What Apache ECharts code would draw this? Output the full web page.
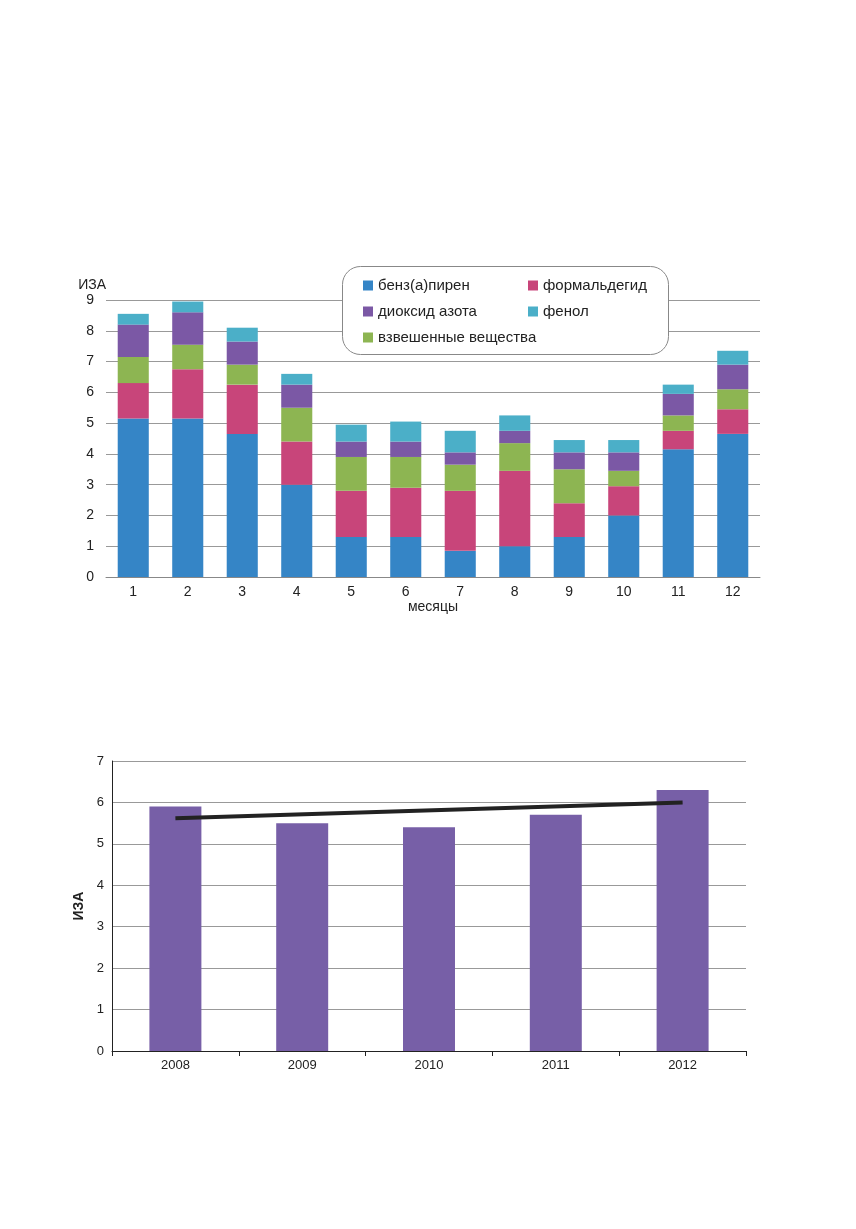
<!DOCTYPE html>
<html>
<head>
<meta charset="utf-8">
<script src="https://cdn.jsdelivr.net/npm/echarts@6/dist/echarts.min.js"></script>
<style>html,body{margin:0;padding:0;background:#fff}#main{width:856px;height:1229px}</style>
</head>
<body>
<div id="main"></div>
<script>
var months = ['1','2','3','4','5','6','7','8','9','10','11','12'];
var benz = [5.15, 5.15, 4.65, 3.0, 1.3, 1.3, 0.85, 1.0, 1.3, 2.0, 4.15, 4.65];
var formal = [1.15, 1.6, 1.6, 1.4, 1.5, 1.6, 1.95, 2.45, 1.1, 0.95, 0.6, 0.8];
var vzvesh = [0.85, 0.8, 0.65, 1.1, 1.1, 1.0, 0.85, 0.9, 1.1, 0.5, 0.5, 0.65];
var dioxid = [1.05, 1.05, 0.75, 0.75, 0.5, 0.5, 0.4, 0.4, 0.55, 0.6, 0.7, 0.8];
var fenol = [0.35, 0.35, 0.45, 0.35, 0.55, 0.65, 0.7, 0.5, 0.4, 0.4, 0.3, 0.45];

var years = ['2008','2009','2010','2011','2012'];
var iza = [5.9, 5.5, 5.4, 5.7, 6.3];
var trend = [5.62, null, null, null, 6.0];

var chart = echarts.init(document.getElementById('main'));
var font = 'Liberation Sans, Arial, sans-serif';
function stackSeries(name, data, color) {
  return { name: name, type: 'bar', stack: 'a', data: data, barWidth: '57%',
    itemStyle: { color: color }, xAxisIndex: 0, yAxisIndex: 0 };
}
chart.setOption({
  animation: false,
  textStyle: { fontFamily: font },
  graphic: [{
    type: 'rect', left: 342, top: 266,
    shape: { width: 326, height: 88, r: 18 },
    style: { fill: '#fff', stroke: '#888', lineWidth: 1 }, z: 1
  }],
  legend: [{
    orient: 'vertical', left: 358, top: 273, itemGap: 11, z: 5,
    itemWidth: 10, itemHeight: 10, icon: 'rect',
    textStyle: { fontSize: 15, color: '#222' },
    data: ['бенз(а)пирен', 'диоксид азота', 'взвешенные вещества']
  }, {
    orient: 'vertical', left: 523, top: 273, itemGap: 11, z: 5,
    itemWidth: 10, itemHeight: 10, icon: 'rect',
    textStyle: { fontSize: 15, color: '#222' },
    data: ['формальдегид', 'фенол']
  }],
  grid: [
    { left: 106, right: 96, top: 300, height: 277 },
    { left: 112, right: 110, top: 761, height: 290 }
  ],
  xAxis: [{
    gridIndex: 0, type: 'category', data: months,
    name: 'месяцы', nameLocation: 'middle', nameGap: 22,
    nameTextStyle: { fontSize: 14, color: '#222' },
    axisLine: { lineStyle: { color: '#888' } }, axisTick: { show: false },
    axisLabel: { fontSize: 14, color: '#222' }
  }, {
    gridIndex: 1, type: 'category', data: years,
    axisLine: { lineStyle: { color: '#222' } },
    axisTick: { show: true, alignWithLabel: false, length: 5, lineStyle: { color: '#222' } },
    axisLabel: { fontSize: 13, color: '#222' }
  }],
  yAxis: [{
    gridIndex: 0, type: 'value', min: 0, max: 9, interval: 1,
    name: 'ИЗА', nameLocation: 'end', nameGap: 8,
    nameTextStyle: { fontSize: 14, color: '#222', align: 'right', padding: [0, 0, 0, 0] },
    axisLine: { show: false }, axisTick: { show: false },
    axisLabel: { fontSize: 14, color: '#222', margin: 12 },
    splitLine: { lineStyle: { color: '#999' } }
  }, {
    gridIndex: 1, type: 'value', min: 0, max: 7, interval: 1,
    name: 'ИЗА', nameLocation: 'middle', nameGap: 22,
    nameTextStyle: { fontSize: 14, fontWeight: 'bold', color: '#222' },
    axisLine: { show: true, lineStyle: { color: '#222' } }, axisTick: { show: false },
    axisLabel: { fontSize: 13, color: '#222', margin: 8 },
    splitLine: { lineStyle: { color: '#999' } }
  }],
  series: [
    stackSeries('бенз(а)пирен', benz, '#3585c6'),
    stackSeries('формальдегид', formal, '#c8457a'),
    stackSeries('взвешенные вещества', vzvesh, '#8db552'),
    stackSeries('диоксид азота', dioxid, '#7b58a5'),
    stackSeries('фенол', fenol, '#4bafc8'),
    { name: 'ИЗА', type: 'bar', data: iza, barWidth: '41%', xAxisIndex: 1, yAxisIndex: 1,
      itemStyle: { color: '#775fa7' } },
    { name: 'тренд', type: 'line', data: trend, connectNulls: true, symbol: 'none',
      xAxisIndex: 1, yAxisIndex: 1, lineStyle: { color: '#222', width: 4 }, z: 5 }
  ]
});
</script>
</body>
</html>
